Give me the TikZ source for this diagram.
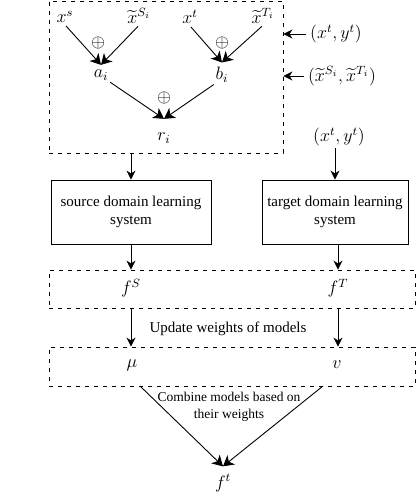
\documentclass[tikz,border=0pt]{standalone}
\usepackage{amsmath}
\usepackage{amssymb}
\usepackage{fontspec}
\setmainfont{Liberation Serif}
\usetikzlibrary{arrows.meta}

\begin{document}
\begin{tikzpicture}[x=0.667pt, y=-0.667pt,
    line width=0.6pt,
    var/.style={font=\large, inner sep=1pt},
    op/.style={font=\large, inner sep=0pt},
    flow/.style={-{Stealth[length=6pt, width=6pt]}},
    merge/.style={-{Stealth[length=7pt, width=8pt, inset=2pt]}},
    dashbox/.style={draw, dashed, line width=0.6pt, inner sep=0pt},
    sysbox/.style={draw, align=center, minimum width=160*0.667pt, minimum height=64*0.667pt, inner sep=2pt}]
    \useasboundingbox (0,0) rectangle (416,502);

    % Pair building box
    \node[dashbox, minimum width=234*0.667pt, minimum height=152*0.667pt] (pairs) at (166,77) {};
    \node[var] (xs) at (65,17) {$x^s$};
    \node[var] (xsi) at (139,16) {$\widetilde{x}^{S_i}$};
    \node[var] (xt) at (190,17) {$x^t$};
    \node[var] (xti) at (263,16) {$\widetilde{x}^{T_i}$};
    \node[var] (ai) at (101,75) {$a_i$};
    \node[var] (bi) at (222,75) {$b_i$};
    \node[var] (ri) at (164,138) {$r_i$};
    \node[op] at (98,43) {$\oplus$};
    \node[op] at (222,43) {$\oplus$};
    \node[op] at (164,98) {$\oplus$};
    \draw[merge, shorten <=1pt] (xs.south) -- ([yshift=3*0.667pt]ai.north);
    \draw[merge, shorten <=1pt] (xsi.south) -- ([yshift=3*0.667pt]ai.north);
    \draw[merge, shorten <=1pt] (xt.south) -- ([yshift=3*0.667pt]bi.north);
    \draw[merge, shorten <=1pt] (xti.south) -- ([yshift=3*0.667pt]bi.north);
    \draw[merge] (ai.south east) -- ([yshift=12*0.667pt]ri.north);
    \draw[merge] (bi.south west) -- ([yshift=12*0.667pt]ri.north);

    % Inputs on the right
    \node[var] (tin) at (336,34) {$(x^t, y^t)$};
    \node[var] (tilin) at (342,76) {$(\widetilde{x}^{S_i}, \widetilde{x}^{T_i})$};
    \draw[flow] ([xshift=-2*0.667pt]tin.west) -- (tin.west -| pairs.east);
    \draw[flow] ([xshift=-2*0.667pt]tilin.west) -- (tilin.west -| pairs.east);
    \node[var] (tdata) at (339,137) {$(x^t, y^t)$};

    % Learning systems
    \node[sysbox] (src) at (131,212) {source domain learning\\system};
    \node[sysbox, minimum width=146*0.667pt] (tgt) at (335,212) {target domain learning\\system};
    \draw[flow] (pairs.south -| src) -- (src.north);
    \draw[flow] (tdata.south -| tgt) -- (tgt.north);

    % Models
    \node[dashbox, minimum width=366*0.667pt, minimum height=38*0.667pt] (models) at (232,289) {};
    \node[var] (fS) at (131,288) {$f^S$};
    \node[var] (fT) at (338,288) {$f^T$};
    \draw[flow] (src.south) -- (src.south |- models.north);
    \draw[flow] (tgt.south -| fT) -- (models.north -| fT);

    % Weights
    \node[dashbox, minimum width=366*0.667pt, minimum height=39*0.667pt] (weights) at (232,366.5) {};
    \node[var] (mu) at (132,365) {$\mu$};
    \node[var] (v) at (337,365) {$v$};
    \draw[flow] (models.south -| fS) -- (weights.north -| fS);
    \draw[flow] (models.south -| fT) -- (weights.north -| fT);
    \node (upd) at (228,329) {Update weights of models};

    % Combination
    \coordinate (cl) at (140,386);
    \coordinate (cr) at (323,386);
    \node[var] (ft) at (223,483) {$f^t$};
    \draw[merge] (cl) -- ([yshift=6*0.667pt]ft.north);
    \draw[merge] (cr) -- ([yshift=6*0.667pt]ft.north);
    \node[align=center, font=\small, inner sep=1pt] (comb) at (229,407) {Combine models based on\\their weights};
\end{tikzpicture}
\end{document}
